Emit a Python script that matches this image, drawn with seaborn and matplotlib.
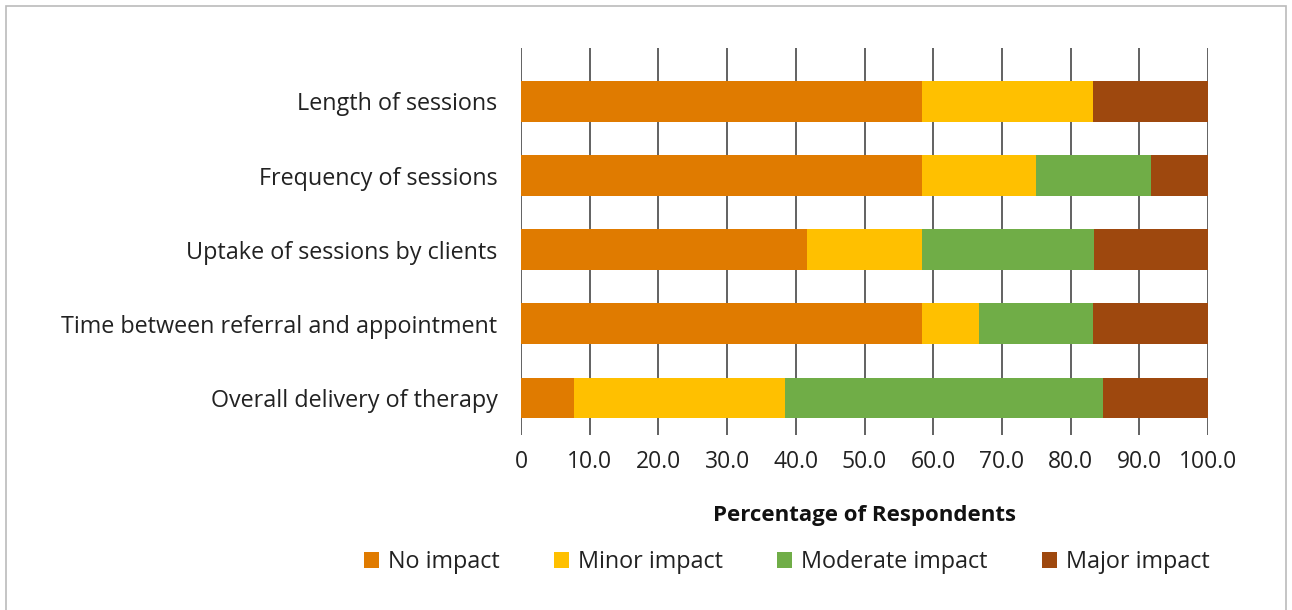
import numpy as np
import pandas as pd
import matplotlib.pyplot as plt
import seaborn as sns
from matplotlib.patches import Rectangle, Patch

categories = ['Length of sessions', 'Frequency of sessions', 'Uptake of sessions by clients',
              'Time between referral and appointment', 'Overall delivery of therapy']
series = ['No impact', 'Minor impact', 'Moderate impact', 'Major impact']
no_impact = [58.3, 58.3, 41.7, 58.3, 7.7]
minor_impact = [25.0, 16.7, 16.7, 8.3, 30.8]
moderate_impact = [0.0, 16.7, 25.0, 16.7, 46.2]
major_impact = [16.7, 8.3, 16.7, 16.7, 15.4]
colors = ['#E07B00', '#FFC000', '#70AD47', '#9E480E']
xticks = [0, 10, 20, 30, 40, 50, 60, 70, 80, 90, 100]
xtick_labels = ['0', '10.0', '20.0', '30.0', '40.0', '50.0', '60.0', '70.0', '80.0', '90.0', '100.0']

sns.set_theme(style='white')
plt.rcParams['font.family'] = ['Open Sans', 'DejaVu Sans']

df = pd.DataFrame({'category': categories, 'No impact': no_impact, 'Minor impact': minor_impact,
                   'Moderate impact': moderate_impact, 'Major impact': major_impact})
cum = df[series].cumsum(axis=1)

fig = plt.figure(figsize=(12.92, 6.10), dpi=100)
ax = fig.add_axes([521 / 1292, 1 - 435 / 610, (1208 - 521) / 1292, (435 - 48) / 610])

# gridlines behind bars
for x in xticks:
    ax.axvline(x, color='#555555', lw=1.3, zorder=0)

# draw stacked bars from the outermost layer inward
for s, c in zip(series[::-1], colors[::-1]):
    sns.barplot(x=cum[s], y=df['category'], color=c, orient='h', width=0.55,
                saturation=1, linewidth=0, ax=ax, zorder=2)

ax.set_xlim(0, 100)
ax.set_ylim(4.5, -0.72)
ax.set_xticks(xticks)
ax.set_xticklabels(xtick_labels, fontsize=16.5, color='#222222')
ax.set_yticklabels(categories, fontsize=16.8, color='#222222')
ax.tick_params(axis='x', pad=11, length=0)
ax.tick_params(axis='y', pad=17, length=0)
ax.set_xlabel('Percentage of Respondents', fontsize=16, fontweight='bold', labelpad=22, color='#111111')
ax.set_ylabel('')
for sp in ax.spines.values():
    sp.set_visible(False)

handles = [Patch(facecolor=c, edgecolor='none') for c in colors]
fig.legend(handles, series, loc='center', bbox_to_anchor=(0.609, 0.078), ncol=4, frameon=False,
           fontsize=16.8, handlelength=0.65, handleheight=0.65, handletextpad=0.4, columnspacing=2.3,
           labelcolor='#222222')

fig.patches.append(Rectangle((6 / 1292, -0.1), 1280 / 1292, 1.1 - 6 / 610, transform=fig.transFigure,
                             fill=False, edgecolor='#BBBBBB', lw=1.2))

fig.savefig('out.png', dpi=100)
